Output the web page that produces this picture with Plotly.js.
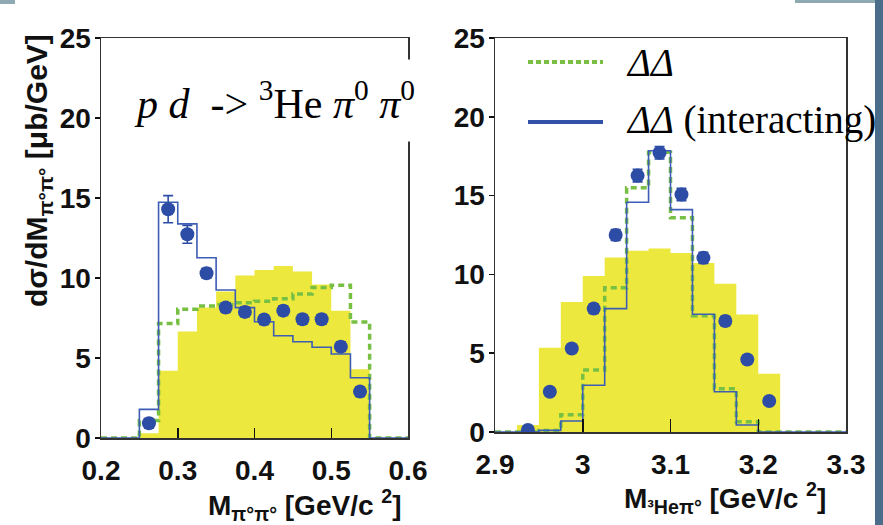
<!DOCTYPE html>
<html>
<head>
<meta charset="utf-8">
<script src="https://cdn.plot.ly/plotly-3.0.1.min.js"></script>
<style>
html,body{margin:0;padding:0;background:#fff;}
#chart{width:883px;height:525px;}
</style>
</head>
<body>
<div id="chart"></div>
<script>
// ---------- data ----------
const leftEdges  = [0.25, 0.275, 0.30, 0.325, 0.35, 0.375, 0.40, 0.425, 0.45, 0.475, 0.50, 0.525, 0.55];
const leftYellow = [0.3, 4.2, 6.65, 8.15, 9.15, 10.15, 10.5, 10.75, 10.4, 9.6, 7.95, 4.3];
const leftGreen  = [1.1, 7.15, 8.05, 8.25, 8.35, 8.45, 8.55, 8.7, 9.0, 9.4, 9.55, 7.25];
const leftBlue   = [1.79, 14.73, 13.38, 11.27, 9.25, 8.15, 7.27, 6.39, 6.02, 5.67, 5.25, 3.77];
const leftDataX  = [0.2625, 0.2875, 0.3125, 0.3375, 0.3625, 0.3875, 0.4125, 0.4375, 0.4625, 0.4875, 0.5125, 0.5375];
const leftDataY  = [0.92, 14.3, 12.73, 10.3, 8.15, 7.88, 7.4, 7.96, 7.42, 7.42, 5.71, 2.9];
const leftDataErr= [0.3, 0.85, 0.56, 0.3, 0.3, 0.3, 0.3, 0.3, 0.3, 0.3, 0.3, 0.3];
const leftRange  = [0.2, 0.6];

const rightEdges  = [2.925, 2.95, 2.975, 3.0, 3.025, 3.05, 3.075, 3.1, 3.125, 3.15, 3.175, 3.2, 3.225];
const rightYellow = [0.44, 5.35, 8.25, 9.9, 11.07, 11.5, 11.65, 11.35, 10.72, 9.4, 7.45, 3.7];
const rightGreen  = [0, 0.1, 1.1, 3.93, 9.15, 15.5, 17.75, 13.6, 7.37, 2.75, 0.65, 0];
const rightBlue   = [0, 0.1, 0.7, 2.97, 7.83, 14.58, 17.85, 14.11, 7.47, 2.55, 0.44, 0];
const rightDataX  = [2.9375, 2.9625, 2.9875, 3.0125, 3.0375, 3.0625, 3.0875, 3.1125, 3.1375, 3.1625, 3.1875, 3.2125];
const rightDataY  = [0.13, 2.55, 5.3, 7.83, 12.5, 16.27, 17.72, 15.07, 11.05, 7.04, 4.6, 1.97];
const rightDataErr= [0.1, 0.2, 0.25, 0.3, 0.35, 0.4, 0.4, 0.4, 0.35, 0.3, 0.25, 0.2];
const rightRange  = [2.9, 3.3];

const yRange = [0, 25];
const xTicksLeft  = [0.2, 0.3, 0.4, 0.5, 0.6];
const xTicksRight = [2.9, 3.0, 3.1, 3.2, 3.3];
const yTicks = [0, 5, 10, 15, 20, 25];

// ---------- styles ----------
const W = 883, H = 525;
const YELLOW = '#ede83d', GREEN = '#78c043', BLUE_LINE = '#3d5db6', BLUE_PT = '#2d4ca5';
const px = v => v / W;
const py = v => 1 - v / H;

function stepXY(edges, vals, range) {
  const x = [range[0]], y = [0];
  for (let i = 0; i < vals.length; i++) { x.push(edges[i]); y.push(vals[i]); }
  x.push(edges[edges.length - 1]); y.push(0);
  x.push(range[1]); y.push(0);
  return {x, y};
}
function fillXY(edges, vals) {
  const x = [edges[0]], y = [0];
  for (let i = 0; i < vals.length; i++) { x.push(edges[i]); y.push(vals[i]); }
  x.push(edges[edges.length - 1]); y.push(0);
  return {x, y};
}

function panelTraces(edges, yellow, green, blue, dx, dy, derr, range, xa, ya) {
  const f = fillXY(edges, yellow);
  const g = stepXY(edges, green, range);
  const b = stepXY(edges, blue, range);
  return [
    {type:'scatter', mode:'lines', x:f.x, y:f.y, xaxis:xa, yaxis:ya,
     line:{shape:'hv', width:0, color:YELLOW}, fill:'tozeroy', fillcolor:YELLOW, hoverinfo:'skip', showlegend:false},
    {type:'scatter', mode:'lines', x:g.x, y:g.y, xaxis:xa, yaxis:ya,
     line:{shape:'hv', width:3.5, color:GREEN, dash:'6px,4px'}, showlegend:false},
    {type:'scatter', mode:'lines', x:b.x, y:b.y, xaxis:xa, yaxis:ya,
     line:{shape:'hv', width:1.6, color:BLUE_LINE}, showlegend:false},
    {type:'scatter', mode:'markers', x:dx, y:dy, xaxis:xa, yaxis:ya,
     marker:{size:14, color:BLUE_PT},
     error_y:{type:'data', array:derr, visible:true, color:BLUE_PT, thickness:1.6, width:5},
     showlegend:false}
  ];
}

const data = [].concat(
  panelTraces(leftEdges, leftYellow, leftGreen, leftBlue, leftDataX, leftDataY, leftDataErr, leftRange, 'x', 'y'),
  panelTraces(rightEdges, rightYellow, rightGreen, rightBlue, rightDataX, rightDataY, rightDataErr, rightRange, 'x2', 'y2')
);

const tickFont = {family:'Liberation Sans, Arial, sans-serif', size:28, weight:'bold', color:'#111'};
const lineCol = '#333';

function xAxis(range, ticks, domain, anchor, tlen) {
  return {domain:domain, range:range, anchor:anchor, tickvals:ticks, ticks:'inside', ticklen:tlen,
    tickwidth:1.5, tickcolor:'#111', showline:true, linecolor:lineCol, linewidth:1.5, mirror:true,
    showgrid:false, zeroline:false, tickfont:tickFont, ticklabelstandoff:7, automargin:false, fixedrange:true};
}
function yAxis(domain, anchor) {
  return {domain:domain, range:yRange, anchor:anchor, tickvals:yTicks, ticks:'outside', ticklen:5,
    tickwidth:1.5, tickcolor:'#111', showline:true, linecolor:lineCol, linewidth:1.5, mirror:true,
    showgrid:false, zeroline:false, tickfont:tickFont, ticklabelstandoff:-2, automargin:false, fixedrange:true};
}

const serif = 'Liberation Serif, Times New Roman, serif';
const sans = 'Liberation Sans, Arial, sans-serif';

const layout = {
  width:W, height:H,
  margin:{l:0, r:0, t:0, b:0},
  paper_bgcolor:'#fff', plot_bgcolor:'#fff',
  showlegend:false,
  xaxis: xAxis(leftRange, xTicksLeft, [px(101), px(408)], 'y', 10),
  yaxis: yAxis([py(438), py(38)], 'x'),
  xaxis2: xAxis(rightRange, xTicksRight, [px(495), px(846)], 'y2', 13),
  yaxis2: yAxis([py(432), py(38)], 'x2'),
  shapes: [
    {type:'line', xref:'paper', yref:'paper', x0:px(528), x1:px(603), y0:py(62), y1:py(62),
     line:{color:GREEN, width:4, dash:'5px,3px'}},
    {type:'line', xref:'paper', yref:'paper', x0:px(528), x1:px(603), y0:py(122), y1:py(122),
     line:{color:'#3451a9', width:4}},
    {type:'rect', xref:'paper', yref:'paper', x0:px(875), x1:1, y0:0, y1:1, line:{width:0}, fillcolor:'#4b6d8c'},
    {type:'rect', xref:'paper', yref:'paper', x0:px(795), x1:px(875), y0:py(3), y1:1, line:{width:0}, fillcolor:'#8fa9b2'},
    {type:'rect', xref:'paper', yref:'paper', x0:0, x1:px(15), y0:py(4), y1:1, line:{width:0}, fillcolor:'#8fa9b2'}
  ],
  annotations: [
    {xref:'paper', yref:'paper', x:px(274), y:py(101), xanchor:'center', yanchor:'middle', showarrow:false,
     text:'<i>p d</i>  -> <sup>3</sup>He <i>π</i><sup>0</sup> <i>π</i><sup>0</sup>',
     font:{family:serif, size:42, color:'#000'}, bgcolor:'#fff', borderpad:14},
    {xref:'paper', yref:'paper', x:px(624), y:py(62), xanchor:'left', yanchor:'middle', showarrow:false,
     text:'<i>ΔΔ</i>', font:{family:serif, size:39, color:'#000'}},
    {xref:'paper', yref:'paper', x:px(624), y:py(120), xanchor:'left', yanchor:'middle', showarrow:false,
     text:'<i>ΔΔ</i> (interacting)', font:{family:serif, size:39, color:'#000'}},
    {xref:'paper', yref:'paper', x:px(38), y:py(171), xanchor:'center', yanchor:'middle', showarrow:false, textangle:-90,
     text:'dσ/dM<sub>π°π°</sub> [μb/GeV]', font:{family:sans, size:30, weight:'bold', color:'#111'}},
    {xref:'paper', yref:'paper', x:px(305), y:py(505), xanchor:'center', yanchor:'middle', showarrow:false,
     text:'M<sub>π°π°</sub> [GeV/c <sup>2</sup>]', font:{family:sans, size:28, weight:'bold', color:'#111'}},
    {xref:'paper', yref:'paper', x:px(725), y:py(498), xanchor:'center', yanchor:'middle', showarrow:false,
     text:'M<sub>³Heπ°</sub> [GeV/c <sup>2</sup>]', font:{family:sans, size:28, weight:'bold', color:'#111'}}
  ]
};

Plotly.newPlot('chart', data, layout, {displayModeBar:false, staticPlot:true});
</script>
</body>
</html>
